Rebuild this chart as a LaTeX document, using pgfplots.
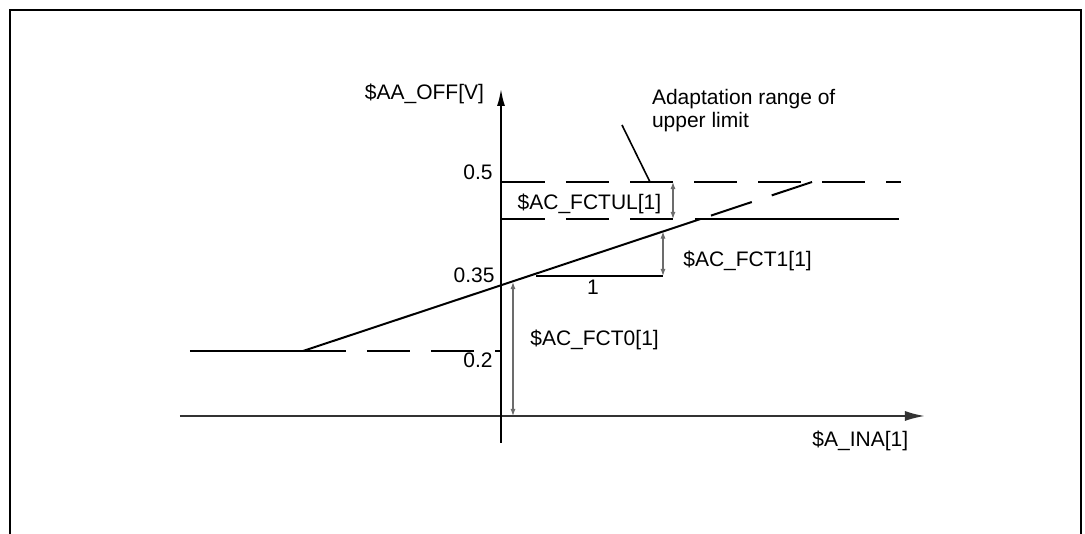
\documentclass[border=0pt]{standalone}
\usepackage{pgfplots}
\pgfplotsset{compat=1.18}
\usepackage{fontspec}
\setmainfont{Liberation Sans}
\usetikzlibrary{arrows.meta}

% 1 unit = 1 px of the reference (0.5bp), origin where the two axes cross
\pgfplotsset{
  lim/.style={line width=1bp, black},
  lim dash/.style={line width=1bp, black, dash pattern=on 21.5bp off 10.5bp},
  dim/.style={line width=0.6bp, gray!85!black, {Latex[length=3.6bp,width=2.6bp]}-{Latex[length=3.6bp,width=2.6bp]}},
}

\begin{document}
\begin{tikzpicture}[font=\fontsize{10.5bp}{12.6bp}\selectfont]
\begin{axis}[
    x=0.5bp, y=0.5bp,
    xmin=-321, xmax=424,
    ymin=-27, ymax=328,
    axis lines=middle,
    xtick=\empty, ytick=\empty,
    clip=false,
    x axis line style={line width=1bp, black!80, -{Latex[length=10bp,width=5bp]}},
    y axis line style={line width=1.2bp, black, -{Latex[length=9bp,width=4bp]}},
]
% upper limit 0.5 and adaptation range
\addplot[lim dash] coordinates {(1,234) (400,234)};
\addplot[lim dash] coordinates {(1,197) (172,197)};
\addplot[lim] coordinates {(194,197) (398,197)};

% lower limit 0.2
\addplot[lim] coordinates {(-311,65) (-155,65)};
\addplot[lim dash] coordinates {(-134,65) (1,65)};

% characteristic: offset 0.35, slope FCT1
\addplot[lim] coordinates {(-198,65) (199.6,197)};
\addplot[lim dash] coordinates {(210,200.4) (311,234)};

% slope triangle
\addplot[lim] coordinates {(35,140) (162,140)};
\addplot[dim] coordinates {(162,140) (162,184.5)};
\addplot[dim] coordinates {(172,197) (172,234)};
\addplot[dim] coordinates {(12,0) (12,134)};

% leader line to the adaptation range
\addplot[line width=0.8bp, black] coordinates {(121,291) (149,234)};

\node[anchor=east] at (axis cs:-10,322) {\$AA\_OFF[V]};
\node[anchor=base west] at (axis cs:144,311) {Adaptation range of};
\node[anchor=base west] at (axis cs:144,288) {upper limit};
\node[anchor=base east, inner sep=0] at (axis cs:-8,236) {0.5};
\node[anchor=base east, inner sep=0] at (axis cs:-6,133) {0.35};
\node[anchor=base east, inner sep=0] at (axis cs:-8,48) {0.2};
\node[anchor=base, inner sep=0] at (axis cs:88.5,206) {\$AC\_FCTUL[1]};
\node[anchor=base, inner sep=0] at (axis cs:92,121) {1};
\node[anchor=base west, inner sep=0] at (axis cs:182,149) {\$AC\_FCT1[1]};
\node[anchor=base west, inner sep=0] at (axis cs:29,70) {\$AC\_FCT0[1]};
\node[anchor=base west, inner sep=0] at (axis cs:311,-31) {\$A\_INA[1]};

% frame, open at the bottom
\draw[line width=1bp, black] (axis cs:-491,-118) -- (axis cs:-491,406) -- (axis cs:580,406) -- (axis cs:580,-118);

\coordinate (BL) at (axis cs:-501,-118);
\coordinate (TR) at (axis cs:584,416);
\end{axis}
\pgfresetboundingbox
\path[use as bounding box] (BL) rectangle (TR);
\end{tikzpicture}
\end{document}
